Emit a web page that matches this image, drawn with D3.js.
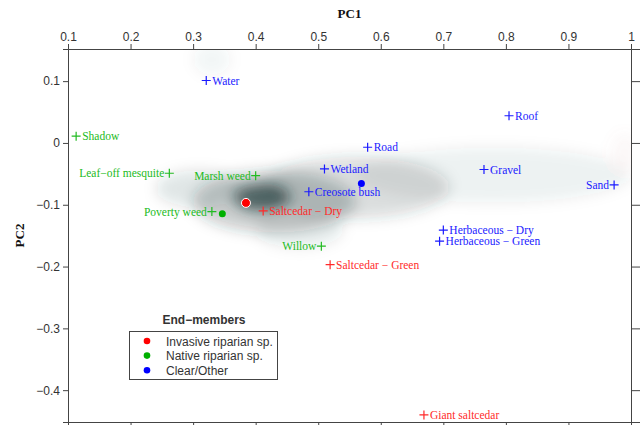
<!DOCTYPE html>
<html lang="en">
  <head>
    <meta charset="UTF-8" />
    <title>PC1 vs PC2 end-members</title>
    <script src="https://d3js.org/d3.v7.min.js"></script>
    <style>
      body { margin: 0; background: #fff; }
      .tick text { font: 12px "Liberation Sans", Arial, sans-serif; fill: #333; }
      .axis path, .axis line { stroke: #444; }
      .axis-title { font: bold 13px "Liberation Serif", "Times New Roman", serif; fill: #111; }
      .em-label { font: 11.5px "Liberation Serif", "Times New Roman", serif; }
      .legend text { font: 12px "Liberation Sans", Arial, sans-serif; fill: #333; }
    </style>
  </head>
  <body>
    <svg id="chart" width="640" height="425"></svg>
    <script>
      const width = 640;
      const height = 425;
      const margin = { top: 49, right: 9, bottom: 3, left: 68 };

      // end-member spectra (PC1, PC2)
      const names = [
        "Water", "Shadow", "Leaf\u2212off mesquite", "Marsh weed", "Poverty weed",
        "Saltcedar \u2212 Dry", "Willow", "Creosote bush", "Wetland", "Road", "Roof",
        "Gravel", "Sand", "Herbaceous \u2212 Dry", "Herbaceous \u2212 Green",
        "Saltcedar \u2212 Green", "Giant saltcedar"
      ];
      const pc1 = [0.321, 0.113, 0.262, 0.400, 0.330, 0.412, 0.505, 0.485, 0.510, 0.579, 0.805,
        0.765, 0.973, 0.700, 0.694, 0.519, 0.669];
      const pc2 = [0.101, 0.011, -0.049, -0.053, -0.111, -0.110, -0.167, -0.079, -0.042, -0.007, 0.044,
        -0.043, -0.068, -0.141, -0.159, -0.197, -0.440];
      const group = ["other", "native", "native", "native", "native", "invasive", "native", "other",
        "other", "other", "other", "other", "other", "other", "other", "invasive", "invasive"];
      const side = ["r", "r", "l", "l", "l", "r", "l", "r", "r", "r", "r", "r", "l", "r", "r", "r", "r"];

      // class means
      const meanGroup = ["invasive", "native", "other"];
      const meanPC1 = [0.3845, 0.3467, 0.569];
      const meanPC2 = [-0.097, -0.1145, -0.0658];
      const legendLabels = ["Invasive riparian sp.", "Native riparian sp.", "Clear/Other"];

      // image pixel density cloud, approximated as soft blobs (centre, half-width, half-height, weight)
      const cloudPC1 = [0.78, 0.56, 0.31, 0.43, 0.47, 0.41, 0.33, 0.99];
      const cloudPC2 = [-0.052, -0.072, -0.074, -0.095, -0.14, -0.088, 0.135, -0.015];
      const cloudW = [0.22, 0.15, 0.07, 0.13, 0.07, 0.045, 0.03, 0.02];
      const cloudH = [0.045, 0.05, 0.03, 0.05, 0.03, 0.022, 0.025, 0.03];
      const cloudA = [0.07, 0.17, 0.12, 0.24, 0.09, 0.7, 0.05, 0.06];

      const xTicks = [0.1, 0.2, 0.3, 0.4, 0.5, 0.6, 0.7, 0.8, 0.9, 1];
      const yTicks = [0.1, 0, -0.1, -0.2, -0.3, -0.4];

      const colors = { invasive: "#ff2a2a", native: "#22bb22", other: "#1a1aff" };
      const dotColors = { invasive: "#ff0000", native: "#00b000", other: "#0000ff" };

      const svg = d3.select("#chart");

      const x = d3.scaleLinear().domain([0.1, 1]).range([margin.left, width - margin.right]);
      const y = d3.scaleLinear().domain([0.152, -0.4515]).range([margin.top, height - margin.bottom]);

      const defs = svg.append("defs");
      defs.append("filter").attr("id", "blur").attr("x", "-50%").attr("y", "-50%")
        .attr("width", "200%").attr("height", "200%")
        .append("feGaussianBlur").attr("stdDeviation", 7);
      defs.append("clipPath").attr("id", "plotclip").append("rect")
        .attr("x", x(0.1)).attr("y", y(0.152))
        .attr("width", x(1) - x(0.1)).attr("height", y(-0.4515) - y(0.152));

      // density cloud
      svg.append("g").attr("clip-path", "url(#plotclip)")
        .append("g").attr("filter", "url(#blur)")
        .selectAll("ellipse")
        .data(d3.range(cloudPC1.length))
        .join("ellipse")
        .attr("cx", (i) => x(cloudPC1[i]))
        .attr("cy", (i) => y(cloudPC2[i]))
        .attr("rx", (i) => x(cloudW[i]) - x(0))
        .attr("ry", (i) => y(-cloudH[i]) - y(0))
        .attr("fill", (i) => (i === cloudPC1.length - 1 ? "#d07070" : "#1c3434"))
        .attr("fill-opacity", (i) => cloudA[i]);

      // axes (bottom labels fall below the picture, so only ticks are drawn there)
      svg.append("g").attr("class", "axis")
        .attr("transform", `translate(0,${margin.top})`)
        .call(d3.axisTop(x).tickValues(xTicks).tickFormat(d3.format("")).tickSizeOuter(0).tickSize(5));
      svg.append("g").attr("class", "axis")
        .attr("transform", `translate(0,${height - margin.bottom})`)
        .call(d3.axisBottom(x).tickValues(xTicks).tickFormat("").tickSizeOuter(0).tickSize(5));
      svg.append("g").attr("class", "axis")
        .attr("transform", `translate(${margin.left},0)`)
        .call(d3.axisLeft(y).tickValues(yTicks).tickFormat(d3.format("")).tickSizeOuter(0).tickSize(5));
      svg.append("g").attr("class", "axis")
        .attr("transform", `translate(${width - margin.right},0)`)
        .call(d3.axisRight(y).tickValues(yTicks).tickFormat("").tickSizeOuter(0).tickSize(9));
      svg.selectAll(".axis .tick text").text(function () {
        return this.textContent.replace("-", "\u2212");
      });

      svg.append("text").attr("class", "axis-title")
        .attr("x", (x(0.1) + x(1)) / 2).attr("y", 18).attr("text-anchor", "middle").text("PC1");
      svg.append("text").attr("class", "axis-title")
        .attr("transform", `translate(24,${(y(0.152) + y(-0.4515)) / 2}) rotate(-90)`)
        .attr("text-anchor", "middle").text("PC2");

      // end-member markers
      const pts = svg.append("g").selectAll("g")
        .data(d3.range(names.length))
        .join("g")
        .attr("transform", (i) => `translate(${x(pc1[i])},${y(pc2[i])})`);
      pts.append("path")
        .attr("d", "M-4.5,0H4.5M0,-4.5V4.5")
        .attr("stroke", (i) => colors[group[i]])
        .attr("stroke-width", 1.2);
      pts.append("text")
        .attr("class", "em-label")
        .attr("x", (i) => (side[i] === "r" ? 6 : -5))
        .attr("y", 4)
        .attr("text-anchor", (i) => (side[i] === "r" ? "start" : "end"))
        .attr("fill", (i) => colors[group[i]])
        .text((i) => names[i]);

      // class mean dots
      svg.append("g").selectAll("circle")
        .data(d3.range(meanGroup.length))
        .join("circle")
        .attr("cx", (i) => x(meanPC1[i]))
        .attr("cy", (i) => y(meanPC2[i]))
        .attr("r", (i) => (i === 0 ? 4.5 : 3.5))
        .attr("fill", (i) => dotColors[meanGroup[i]])
        .attr("stroke", (i) => (i === 0 ? "#fff" : "none"))
        .attr("stroke-width", 1);

      // legend
      const legend = svg.append("g").attr("class", "legend");
      legend.append("text").attr("x", 204).attr("y", 324).attr("text-anchor", "middle")
        .style("font-weight", "bold").text("End\u2212members");
      legend.append("rect").attr("x", 129.5).attr("y", 331.5).attr("width", 148).attr("height", 48)
        .attr("fill", "#fff").attr("stroke", "#444");
      const items = legend.selectAll("g.item").data(d3.range(legendLabels.length)).join("g")
        .attr("class", "item")
        .attr("transform", (i) => `translate(147,${341 + i * 14.6})`);
      items.append("circle").attr("r", 3.3).attr("fill", (i) => dotColors[meanGroup[i]]);
      items.append("text").attr("x", 19).attr("y", 4.5).text((i) => legendLabels[i]);
    </script>
  </body>
</html>
